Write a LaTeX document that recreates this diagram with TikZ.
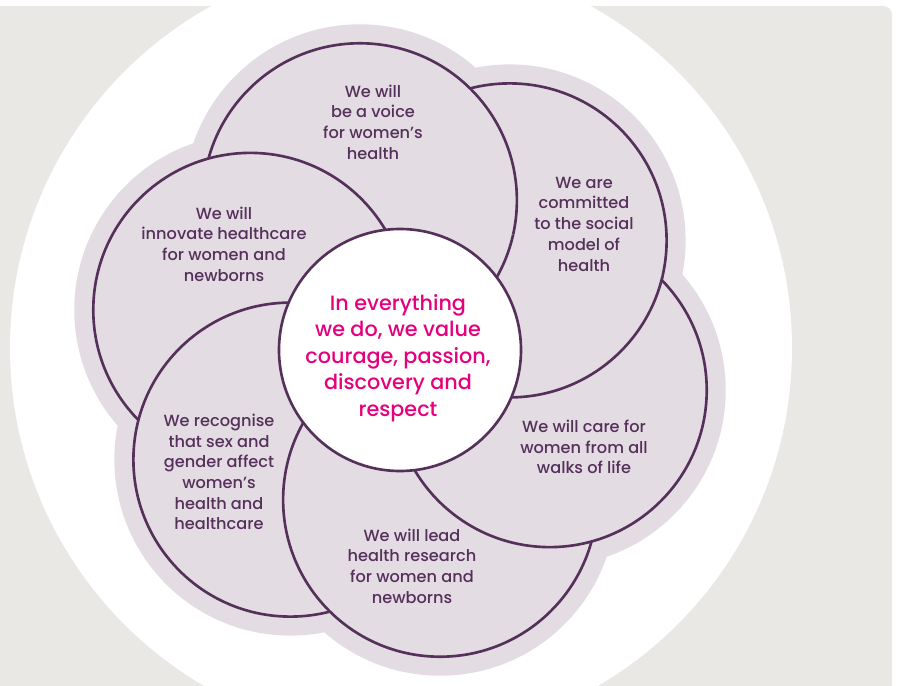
\documentclass[tikz,border=0pt]{standalone}
\usepackage{fontspec}
\IfFontExistsTF{Poppins Medium}{\setmainfont{Poppins Medium}}{\setmainfont{Poppins}}
\usetikzlibrary{calc}
\definecolor{pagegrey}{HTML}{E9E8E4}
\definecolor{petalfill}{HTML}{E3DCE3}
\definecolor{petalline}{HTML}{55305A}
\definecolor{valuepink}{HTML}{E5007D}
\begin{document}
\begin{tikzpicture}
[
    x=0.02cm, y=-0.02cm,
    petal/.style={fill=petalfill, draw=petalline, line width=1.5pt},
    aim/.style={text=petalline, align=center, font=\fontsize{9.2}{11.8}\selectfont},
    value/.style={text=valuepink, align=center, font=\fontsize{11.8}{15.1}\selectfont},
]
\useasboundingbox (0,0) rectangle (899,686);
\fill[white] (0,0) rectangle (899,686);
\fill[pagegrey, rounded corners=5pt] (-20,6) rectangle (892,720);
\fill[white] (401,348) circle[radius=391];
\coordinate (hub) at (400,350);
\foreach \nm/\ang in {social/45, voice/105, innovate/165, recognise/225, research/285, care/345}
    \coordinate (\nm) at ($(hub)+(-\ang:155)$);
\foreach \nm in {social, voice, innovate, recognise, research, care}
    \fill[petalfill] (\nm) circle[radius=176];
\foreach \nm in {social, voice, innovate, recognise, research, care}
    \draw[petal] (\nm) circle[radius=157];
% social back over care, then voice back over social
\begin{scope}
    \clip (care) circle[radius=160];
    \draw[petal] (social) circle[radius=157];
    \clip (social) circle[radius=160];
    \draw[petal] (voice) circle[radius=157];
\end{scope}
\draw[petal, fill=white] (hub) circle[radius=121];
\node[aim] (voicetext) at (373,122) {We will\\be a voice\\for women’s\\health};
\node[aim] (socialtext) at (584,224) {We are\\committed\\to the social\\model of\\health};
\node[aim] (innovatetext) at (224,244) {We will\\innovate healthcare\\for women and\\newborns};
\node[aim] (recognisetext) at (219,472) {We recognise\\that sex and\\gender affect\\women’s\\health and\\healthcare};
\node[aim] (researchtext) at (412,566) {We will lead\\health research\\for women and\\newborns};
\node[aim] (caretext) at (584,447) {We will care for\\women from all\\walks of life};
\node[value] (hubtext) at (398,358) {In everything\\we do, we value\\courage, passion,\\discovery and\\respect};
\end{tikzpicture}
\end{document}
